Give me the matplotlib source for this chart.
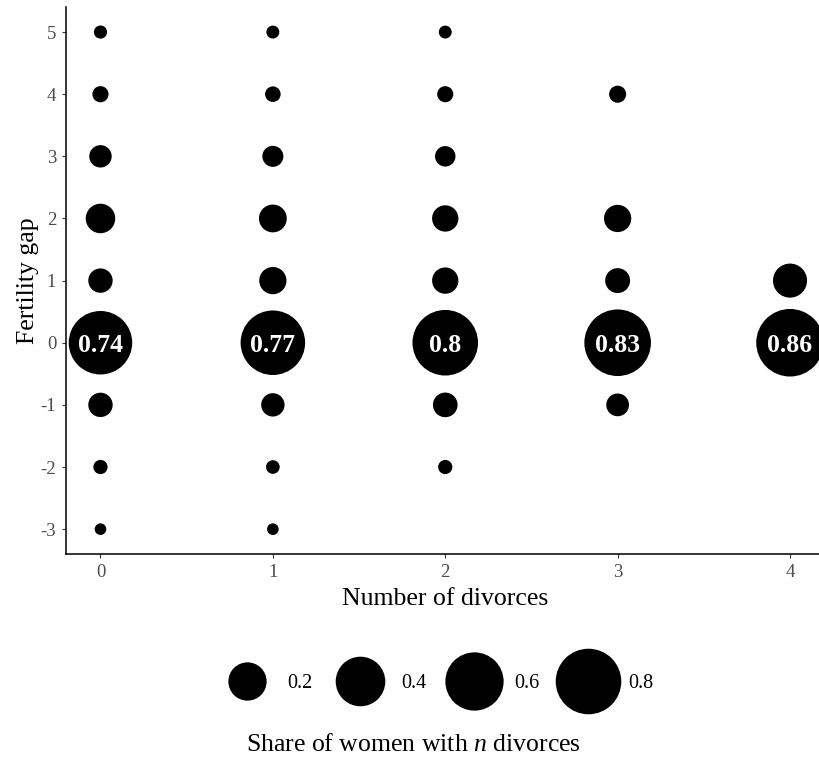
import matplotlib
matplotlib.use("Agg")
import matplotlib.pyplot as plt
from matplotlib.lines import Line2D
import numpy as np

plt.rcParams["font.family"] = ["Liberation Serif", "DejaVu Serif"]
plt.rcParams["axes.unicode_minus"] = False
plt.rcParams["mathtext.fontset"] = "custom"
plt.rcParams["mathtext.rm"] = "Liberation Serif"
plt.rcParams["mathtext.it"] = "Liberation Serif:italic"

# long format: one entry per bubble
divorces = [0, 0, 0, 0, 0, 0, 0, 0, 0,
            1, 1, 1, 1, 1, 1, 1, 1, 1,
            2, 2, 2, 2, 2, 2, 2, 2,
            3, 3, 3, 3, 3,
            4, 4]
gap = [5, 4, 3, 2, 1, 0, -1, -2, -3,
       5, 4, 3, 2, 1, 0, -1, -2, -3,
       5, 4, 3, 2, 1, 0, -1, -2,
       4, 2, 1, 0, -1,
       1, 0]
share = [0.0013, 0.0072, 0.035, 0.092, 0.048, 0.74, 0.048, 0.0028, 0.0001,
         0.001, 0.0056, 0.027, 0.076, 0.071, 0.77, 0.041, 0.0019, 0.0001,
         0.001, 0.007, 0.024, 0.063, 0.063, 0.80, 0.05, 0.0028,
         0.010, 0.071, 0.052, 0.83, 0.037,
         0.143, 0.86]

legend_breaks = [0.2, 0.4, 0.6, 0.8]
x_ticks = [0, 1, 2, 3, 4]
y_ticks = [-3, -2, -1, 0, 1, 2, 3, 4, 5]

DPI = 100
PX = 72 / DPI  # points per pixel


def diam_pt(v):
    # area-style size scale (diameter grows with sqrt of share)
    return (11 + 61 * np.sqrt(np.asarray(v))) * PX


fig = plt.figure(figsize=(8.19, 7.59), dpi=DPI)
ax = fig.add_axes([66 / 819, 1 - 554 / 759, (824.5 - 66) / 819, (554 - 7.2) / 759])

ax.scatter(divorces, gap, s=diam_pt(share) ** 2, c="black", linewidths=0, zorder=3)

for xi, yi, v in zip(divorces, gap, share):
    if yi == 0:
        ax.text(xi, yi, f"{v:g}", color="white", fontweight="bold", fontsize=18.5,
                ha="center", va="center_baseline", zorder=4)

ax.set_xlim(-0.2, 4.2)
ax.set_ylim(-3.4, 5.4)
ax.set_xticks(x_ticks)
ax.set_yticks(y_ticks)
ax.tick_params(axis="both", direction="out", length=3, width=0.8, color="#333333",
               labelcolor="#4D4D4D", labelsize=13.5, pad=4)

for side in ["top", "right"]:
    ax.spines[side].set_visible(False)
for side in ["left", "bottom"]:
    ax.spines[side].set_linewidth(1.1)
    ax.spines[side].set_color("black")

ax.set_xlabel("Number of divorces", fontsize=18.5, labelpad=5)
ax.set_ylabel("Fertility gap", fontsize=18.5, labelpad=1)

handles = [Line2D([], [], marker="o", linestyle="none", color="black",
                  markersize=float(diam_pt(b)), markeredgewidth=0) for b in legend_breaks]
fig.legend(handles, [f"{b:g}" for b in legend_breaks], loc="center",
           bbox_to_anchor=(433 / 819, 1 - 683 / 759), ncol=4, frameon=False,
           fontsize=14.5, handlelength=3.4, handletextpad=0.3, columnspacing=0.7)
fig.text(413 / 819, 1 - 745 / 759, "Share of women with $n$ divorces", fontsize=18.5,
         ha="center", va="center")

fig.savefig("out.png", dpi=DPI)
